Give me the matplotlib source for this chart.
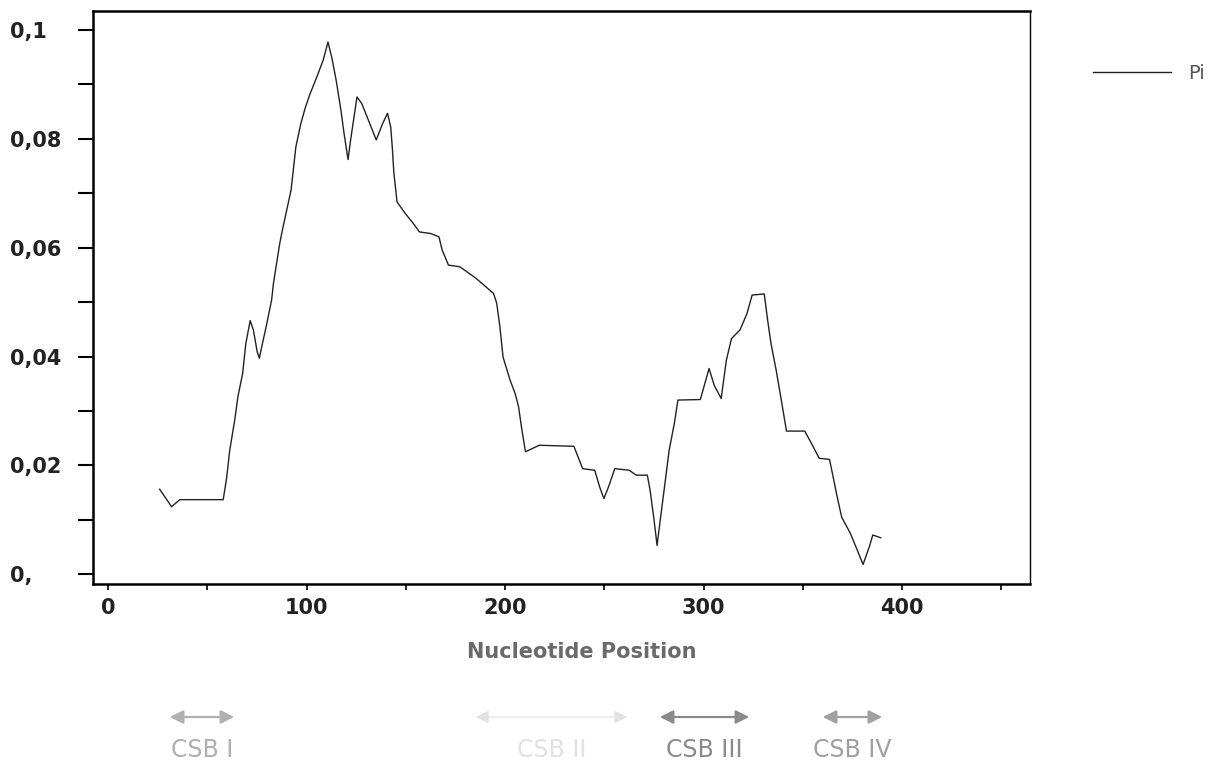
import matplotlib
matplotlib.use("Agg")
import matplotlib.pyplot as plt
from matplotlib.ticker import MultipleLocator

# nucleotide diversity (Pi) along the sliding window
position = [26.0, 32.0, 36.1, 58.0, 59.7, 61.3, 63.8, 65.4, 67.8, 69.4,
            71.6, 73.2, 75.1, 76.2, 77.6, 80.0, 82.4, 83.3, 84.9, 86.5,
            87.8, 92.2, 94.6, 97.1, 99.5, 101.9, 105.2, 108.4, 110.8, 112.8,
            114.9, 117.3, 118.9, 120.9, 122.2, 125.4, 127.8, 131.1, 135.1, 138.3,
            140.8, 142.4, 143.2, 144.0, 145.6, 149.7, 153.7, 156.9, 162.6, 166.7,
            168.3, 171.5, 177.2, 185.3, 194.2, 195.8, 197.4, 199.0, 202.5, 205.1,
            206.8, 208.5, 210.3, 213.8, 217.3, 234.7, 239.1, 245.2, 247.7, 249.8,
            252.1, 255.3, 262.6, 266.1, 271.7, 273.1, 274.9, 276.6, 278.4, 281.0,
            282.7, 285.3, 287.1, 298.4, 302.8, 305.4, 308.9, 311.5, 314.1, 318.4,
            321.9, 324.5, 330.6, 332.3, 334.0, 336.6, 339.2, 341.8, 351.0, 354.0,
            358.3, 363.5, 365.3, 367.0, 369.6, 374.0, 377.5, 380.4, 383.5, 385.3,
            389.3]
pi = [0.0156, 0.0124, 0.0137, 0.0137, 0.0176, 0.0228, 0.0283, 0.0326, 0.0369, 0.0424,
      0.0466, 0.0449, 0.0409, 0.0397, 0.0421, 0.0461, 0.0504, 0.0534, 0.0571, 0.0608,
      0.0632, 0.0706, 0.0785, 0.0828, 0.0859, 0.0884, 0.0914, 0.0945, 0.0978, 0.0948,
      0.0908, 0.0853, 0.0810, 0.0762, 0.0798, 0.0877, 0.0865, 0.0835, 0.0798, 0.0828,
      0.0847, 0.0822, 0.0784, 0.0737, 0.0684, 0.0663, 0.0645, 0.0629, 0.0626, 0.0620,
      0.0596, 0.0568, 0.0565, 0.0544, 0.0516, 0.0498, 0.0455, 0.0399, 0.0357, 0.0332,
      0.0308, 0.0265, 0.0225, 0.0231, 0.0237, 0.0235, 0.0194, 0.0191, 0.0160, 0.0139,
      0.0160, 0.0194, 0.0191, 0.0182, 0.0182, 0.0154, 0.0105, 0.0053, 0.0105, 0.0179,
      0.0228, 0.0277, 0.0320, 0.0321, 0.0378, 0.0347, 0.0323, 0.0393, 0.0433, 0.0449,
      0.0479, 0.0513, 0.0515, 0.0467, 0.0424, 0.0375, 0.0320, 0.0263, 0.0263, 0.0243,
      0.0213, 0.0211, 0.0179, 0.0148, 0.0105, 0.0075, 0.0044, 0.0018, 0.0050, 0.0072,
      0.0067]

y_ticks = [0, 0.02, 0.04, 0.06, 0.08, 0.1]
y_labels = ["0,", "0,02", "0,04", "0,06", "0,08", "0,1"]
x_ticks = [0, 100, 200, 300, 400]

# conserved sequence blocks drawn under the axis
csb_names = ["CSB I", "CSB II", "CSB III", "CSB IV"]
csb_colors = ["#b0b0b0", "#e2e2e2", "#8a8a8a", "#a0a0a0"]

W, H = 1226, 768
fig = plt.figure(figsize=(W / 100, H / 100), dpi=100)
ax = fig.add_axes([93 / W, 1 - 584 / H, (1030 - 93) / W, (584 - 11) / H])

ax.plot(position, pi, color="#222222", lw=1.0, label="Pi")

ax.set_xlim(-7.6, 464.5)
ax.set_ylim(-0.0018, 0.1035)

ax.set_yticks(y_ticks)
ax.set_yticklabels(y_labels, fontsize=15, fontweight="bold", color="#222222")
ax.yaxis.set_minor_locator(MultipleLocator(0.01))
ax.tick_params(axis="y", which="both", direction="out", length=11, width=1.5, pad=49)
for lab in ax.get_yticklabels():
    lab.set_horizontalalignment("left")

ax.set_xticks(x_ticks)
ax.set_xticklabels([str(t) for t in x_ticks], fontsize=15, fontweight="bold", color="#222222")
ax.xaxis.set_minor_locator(MultipleLocator(50))
ax.tick_params(axis="x", which="both", direction="out", length=4, width=1.2, pad=6)

ax.set_xlabel("Nucleotide Position", fontsize=15, fontweight="bold", color="#6a6a6a", labelpad=17)
ax.xaxis.label.set_x(0.522)

for side in ["left", "bottom", "top"]:
    ax.spines[side].set_linewidth(1.8)
ax.spines["right"].set_linewidth(1.0)

fig.legend(loc="upper left", bbox_to_anchor=(1083 / W, 1 - 54 / H), frameon=False,
           fontsize=14, handlelength=4.0, handletextpad=0.9, borderpad=0,
           labelcolor="#555555")

# CSB arrows and labels
csb_spans = [(167, 237), (473, 630), (657, 752), (820, 885)]
for name, col, (x0, x1) in zip(csb_names, csb_colors, csb_spans):
    lw = 0.8 if name == "CSB II" else 1.6
    fig.add_artist(matplotlib.patches.FancyArrowPatch(
        (x0 / W, 1 - 717 / H), (x1 / W, 1 - 717 / H), transform=fig.transFigure,
        arrowstyle="<|-|>", mutation_scale=20, color=col, lw=lw))
    fig.text((x0 + x1) / 2 / W, 1 - 750 / H, name, ha="center", va="center",
             fontsize=17, color=col)

fig.savefig("out.png", dpi=100)
